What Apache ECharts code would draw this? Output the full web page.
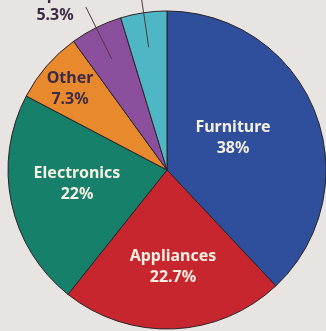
<!DOCTYPE html>
<html><head><meta charset="utf-8">
<script src="https://cdn.jsdelivr.net/npm/echarts@6/dist/echarts.min.js"></script>
<style>html,body{margin:0;padding:0;background:#e7e4e2;overflow:hidden;width:326px;height:331px;position:relative;}#c{position:absolute;left:0;top:-60px;width:326px;height:391px;}</style>
</head><body><div id="c"></div>
<script>
var categories = ["Furniture", "Appliances", "Electronics", "Other", "Computers", "Housewares"];
var values = [38, 22.7, 22, 7.3, 5.3, 4.7];
var colors = ["#2f4f9c", "#c8262e", "#17806a", "#e8892e", "#8c4f9e", "#4fb6c6"];
var labelPos = [[233, 198], [173, 327], [77, 244], [70, 149], [55, 65], [150, 15]];
var labelColors = ["#f5efe2", "#f5efe2", "#f5efe2", "#3d2b46", "#3d2b46", "#3d2b46"];

var chart = echarts.init(document.getElementById('c'));
var font = '"Noto Sans", "Open Sans", sans-serif';
var center = [167, 230];
var R = 159;

var mainData = categories.map(function (c, i) {
  return {
    name: c, value: values[i],
    itemStyle: { color: colors[i] },
    label: { show: true, position: 'inside', color: labelColors[i] }
  };
});
var guideData = categories.map(function (c, i) {
  var show = i >= 4;
  return {
    name: c, value: values[i],
    label: { show: show },
    labelLine: { show: show, length: i === 4 ? 58 : 95, length2: 0 }
  };
});

chart.setOption({
  backgroundColor: '#e7e4e2',
  animation: false,
  series: [{
    type: 'pie',
    z: 2,
    center: center,
    radius: [0, R],
    startAngle: 90,
    clockwise: true,
    data: mainData,
    itemStyle: { borderColor: '#2a2226', borderWidth: 1 },
    label: {
      formatter: function (p) { return p.name + '\n' + p.value + '%'; },
      fontFamily: font, fontWeight: 'bold', fontSize: 16, lineHeight: 21,
      align: 'center', overflow: 'none'
    },
    labelLine: { show: false },
    labelLayout: function (p) {
      var pos = labelPos[p.dataIndex];
      return { x: pos[0], y: pos[1], align: 'center', verticalAlign: 'middle' };
    },
    emphasis: { disabled: true }
  }, {
    type: 'pie',
    z: 5,
    center: center,
    radius: [0, 124],
    startAngle: 90,
    clockwise: true,
    silent: true,
    avoidLabelOverlap: false,
    data: guideData,
    itemStyle: { color: 'rgba(0,0,0,0)', borderWidth: 0 },
    label: {
      position: 'outside',
      overflow: 'none',
      formatter: ' ',
      fontSize: 4,
      distanceToLabelLine: 0
    },
    labelLine: { lineStyle: { color: '#4a3a3a', width: 1 } },
    emphasis: { disabled: true }
  }]
});
</script></body></html>
